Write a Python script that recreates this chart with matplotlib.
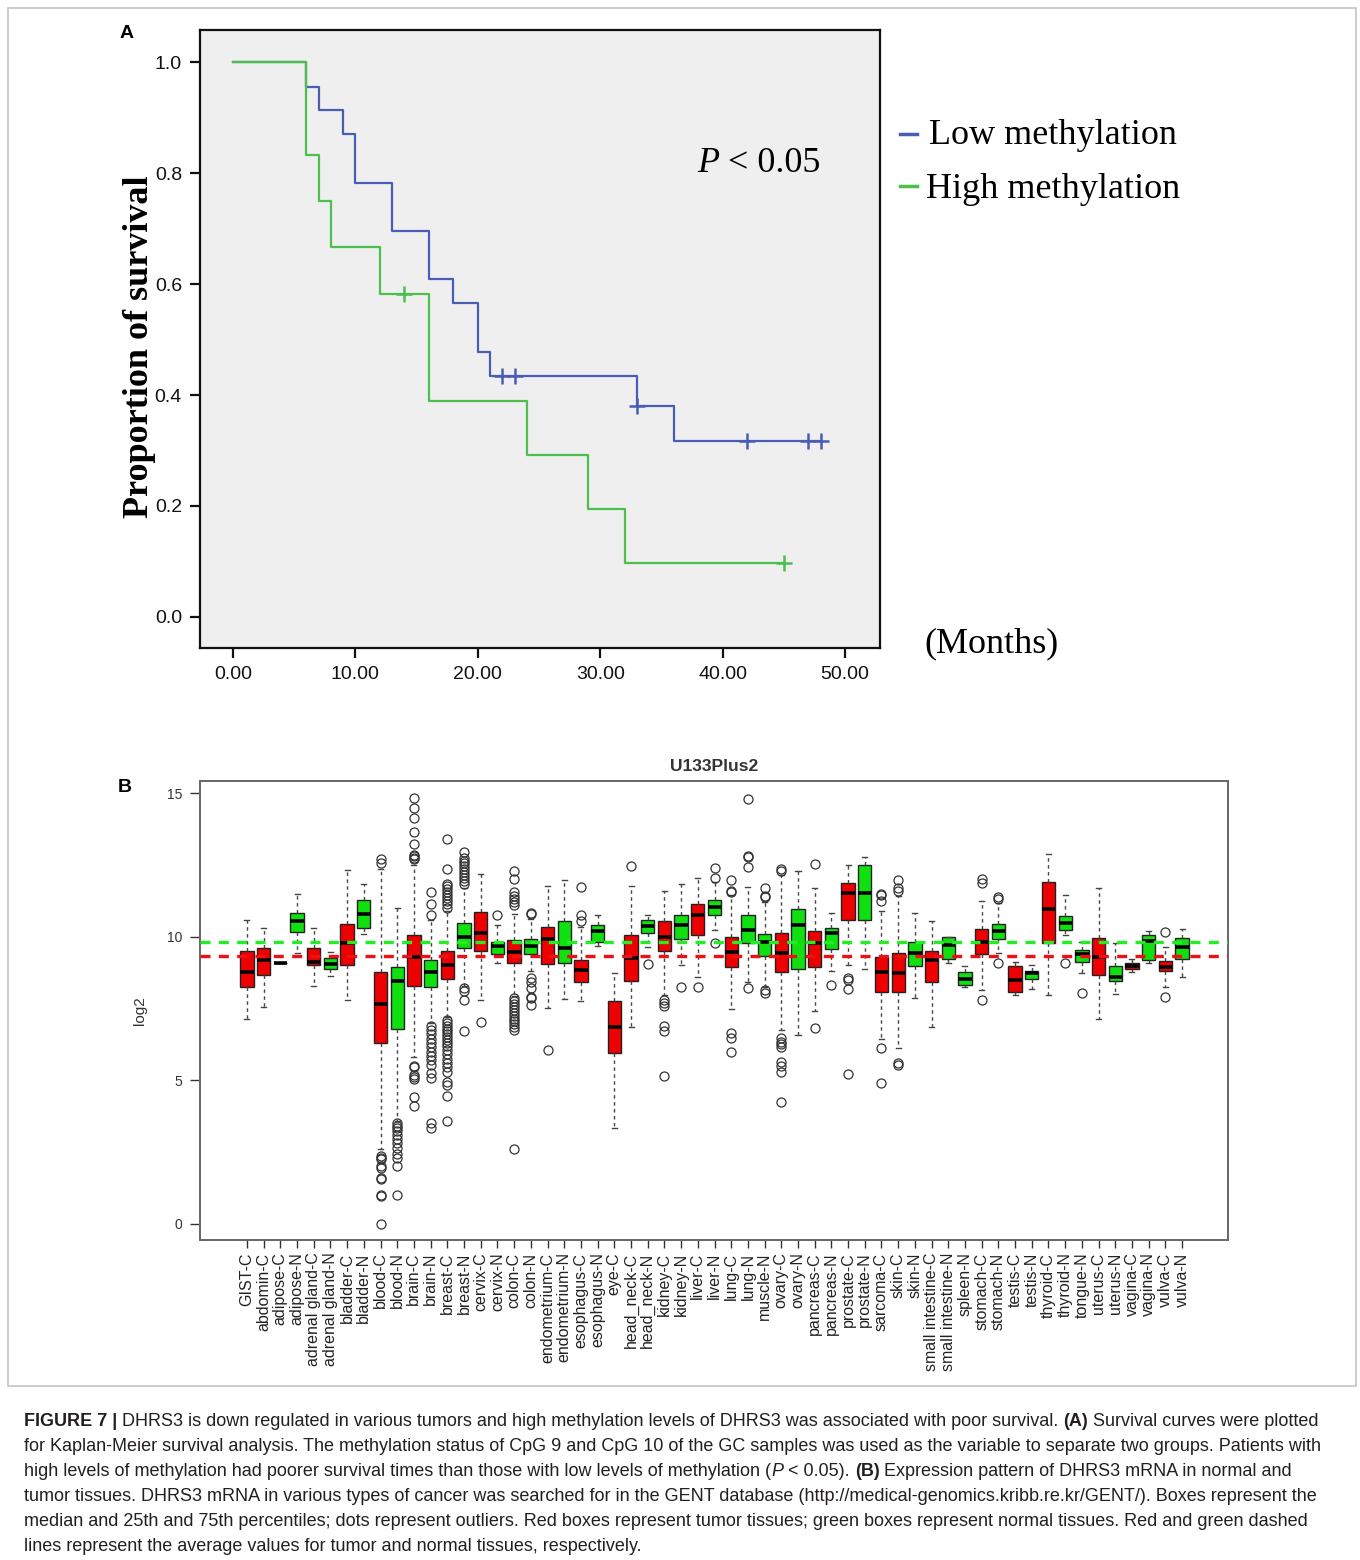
import matplotlib
matplotlib.use('Agg')
import matplotlib.pyplot as plt
from matplotlib.patches import Rectangle
from matplotlib.text import Annotation

plt.rcParams['font.family'] = ['Liberation Sans', 'DejaVu Sans']

W, H = 1360, 1560

# ---- panel A: Kaplan-Meier data ----
low_t = [0, 6, 7, 9, 10, 13, 16, 18, 20, 21, 33, 36, 48]
low_s = [1.0, 0.956, 0.913, 0.870, 0.783, 0.696, 0.609, 0.565, 0.478, 0.435, 0.380, 0.317, 0.317]
low_cens_t = [22, 23, 33, 42, 47, 48]
low_cens_s = [0.435, 0.435, 0.380, 0.317, 0.317, 0.317]

high_t = [0, 6, 7, 8, 12, 16, 24, 29, 32, 45]
high_s = [1.0, 0.833, 0.750, 0.667, 0.583, 0.389, 0.292, 0.194, 0.097, 0.097]
high_cens_t = [14, 45]
high_cens_s = [0.583, 0.097]

# ---- panel B: GENT U133Plus2 boxplot stats ----
tissues = ['GIST-C', 'abdomin-C', 'adipose-C', 'adipose-N', 'adrenal gland-C', 'adrenal gland-N',
           'bladder-C', 'bladder-N', 'blood-C', 'blood-N', 'brain-C', 'brain-N', 'breast-C', 'breast-N',
           'cervix-C', 'cervix-N', 'colon-C', 'colon-N', 'endometrium-C', 'endometrium-N',
           'esophagus-C', 'esophagus-N', 'eye-C', 'head_neck-C', 'head_neck-N', 'kidney-C', 'kidney-N',
           'liver-C', 'liver-N', 'lung-C', 'lung-N', 'muscle-N', 'ovary-C', 'ovary-N', 'pancreas-C',
           'pancreas-N', 'prostate-C', 'prostate-N', 'sarcoma-C', 'skin-C', 'skin-N',
           'small intestine-C', 'small intestine-N', 'spleen-N', 'stomach-C', 'stomach-N', 'testis-C',
           'testis-N', 'thyroid-C', 'thyroid-N', 'tongue-N', 'uterus-C', 'uterus-N', 'vagina-C',
           'vagina-N', 'vulva-C', 'vulva-N']
whislo = [7.14, 7.56, 9.08, 9.42, 8.28, 8.63, 7.80, 10.09, 2.60, 3.60, 5.80, 7.00, 7.20, 8.30,
          7.80, 9.07, 7.95, 8.80, 7.50, 7.83, 7.77, 9.69, 3.33, 6.87, 9.65, 7.97, 9.01,
          8.58, 10.22, 7.47, 8.43, 8.26, 6.75, 6.57, 7.42, 8.82, 9.01, 8.89, 6.44, 6.11, 7.85,
          6.85, 9.07, 8.24, 8.16, 9.42, 7.96, 8.19, 7.97, 10.05, 8.75, 7.14, 8.00, 8.77,
          9.07, 8.24, 8.61]
q1 = [8.24, 8.67, 9.08, 10.17, 9.02, 8.86, 9.01, 10.30, 6.29, 6.80, 8.30, 8.24, 8.53, 9.59,
      9.51, 9.40, 9.08, 9.38, 9.05, 9.09, 8.43, 9.80, 5.94, 8.46, 10.14, 9.49, 9.91,
      10.07, 10.77, 8.96, 9.78, 9.33, 8.76, 8.86, 8.93, 9.56, 10.58, 10.58, 8.07, 8.06, 8.99,
      8.43, 9.21, 8.32, 9.38, 9.93, 8.07, 8.51, 9.79, 10.23, 9.11, 8.67, 8.44, 8.89,
      9.19, 8.81, 9.24]
med = [8.77, 9.19, 9.08, 10.53, 9.11, 9.05, 9.79, 10.78, 7.66, 8.45, 9.31, 8.77, 9.02, 10.00,
       10.14, 9.66, 9.48, 9.66, 9.91, 9.59, 8.84, 10.20, 6.85, 9.27, 10.37, 9.98, 10.42,
       10.75, 11.03, 9.48, 10.25, 9.81, 9.42, 10.41, 9.77, 10.12, 11.51, 11.53, 8.76, 8.75, 9.42,
       9.19, 9.71, 8.53, 9.81, 10.21, 8.49, 8.74, 10.97, 10.49, 9.38, 9.30, 8.61, 8.98,
       9.85, 8.96, 9.63]
q3 = [9.50, 9.62, 9.08, 10.84, 9.59, 9.25, 10.44, 11.28, 8.76, 8.93, 10.06, 9.19, 9.50, 10.49,
      10.85, 9.83, 9.88, 9.93, 10.33, 10.54, 9.19, 10.42, 7.75, 10.06, 10.57, 10.53, 10.75,
      11.14, 11.28, 9.98, 10.75, 10.10, 10.12, 10.95, 10.21, 10.30, 11.86, 12.48, 9.30, 9.42, 9.80,
      9.50, 10.00, 8.76, 10.27, 10.45, 8.98, 8.79, 11.91, 10.73, 9.52, 9.97, 8.99, 9.07,
      10.06, 9.16, 9.97]
whishi = [10.59, 10.31, 9.08, 11.47, 10.29, 9.47, 12.32, 11.83, 12.35, 10.99, 12.50, 10.59, 10.90, 11.70,
          12.18, 10.39, 10.80, 10.60, 11.76, 11.97, 10.35, 10.74, 8.72, 11.76, 10.75, 11.59, 11.82,
          12.03, 11.90, 11.45, 11.74, 11.22, 12.15, 12.30, 11.70, 10.84, 12.49, 12.76, 10.89, 11.41, 10.81,
          10.54, 10.00, 8.98, 11.25, 11.16, 9.13, 9.00, 12.88, 11.45, 9.80, 11.68, 9.77, 9.21,
          10.21, 9.65, 10.28]
outliers = [
    [], [], [], [], [], [], [], [],
    [12.69, 12.55, 2.35, 2.3, 2.25, 2.0, 1.95, 1.6, 1.55, 1.0, 0.97, 0.0],
    [3.5, 3.42, 3.35, 3.25, 3.1, 2.95, 2.8, 2.65, 2.45, 2.3, 2.0, 1.0],
    [14.84, 14.47, 14.12, 13.65, 13.22, 12.85, 12.8, 12.75, 12.7, 5.5, 5.45, 5.2, 5.1, 5.05, 4.43, 4.11],
    [11.57, 11.13, 10.76, 6.9, 6.75, 6.6, 6.45, 6.3, 6.15, 6.0, 5.85, 5.7, 5.55, 5.27, 5.07, 3.5, 3.33],
    [13.41, 12.37, 11.85, 11.75, 11.65, 11.55, 11.45, 11.35, 11.25, 11.15, 11.0,
     7.1, 7.0, 6.9, 6.8, 6.7, 6.6, 6.5, 6.4, 6.3, 6.2, 6.05, 5.9, 5.75, 5.6, 5.45, 5.3, 4.95, 4.84, 4.47, 3.6],
    [12.96, 12.75, 12.65, 12.55, 12.45, 12.35, 12.25, 12.15, 12.05, 11.95, 11.85, 8.2, 8.1, 7.8, 6.71],
    [7.04], [10.74],
    [12.30, 12.0, 11.57, 11.4, 11.3, 11.2, 11.1,
     7.85, 7.75, 7.65, 7.55, 7.45, 7.35, 7.25, 7.15, 7.05, 6.95, 6.85, 6.75, 2.6],
    [10.83, 10.78, 8.55, 8.43, 8.2, 7.91, 7.85, 7.62],
    [6.06], [], [11.74, 10.75, 10.56], [], [], [12.47], [9.05],
    [7.8, 7.7, 7.6, 6.9, 6.7, 5.15], [8.24], [8.26], [12.38, 12.05, 9.78],
    [11.97, 11.6, 11.55, 6.66, 6.46, 6.0], [14.79, 12.82, 12.76, 12.44, 8.22],
    [11.70, 11.42, 11.38, 8.14, 8.03],
    [12.34, 12.30, 6.46, 6.35, 6.25, 6.15, 5.65, 5.5, 5.28, 4.26], [],
    [12.53, 6.81], [8.31], [8.55, 8.5, 8.18, 5.23], [],
    [11.5, 11.45, 11.24, 6.11, 4.92], [11.99, 11.7, 11.6, 5.59, 5.55], [],
    [], [], [], [12.0, 11.86, 7.80], [11.39, 11.3, 9.10], [], [], [], [9.10], [8.05],
    [], [], [], [], [10.17, 7.91], [],
]
mean_normal = 9.81
mean_tumor = 9.33

caption = [
    [("FIGURE 7 | ", 'bold', 'normal'),
     ("DHRS3 is down regulated in various tumors and high methylation levels of DHRS3 was associated with poor survival. ", 'normal', 'normal'),
     ("(A)", 'bold', 'normal'), (" Survival curves were plotted", 'normal', 'normal')],
    [("for Kaplan-Meier survival analysis. The methylation status of CpG 9 and CpG 10 of the GC samples was used as the variable to separate two groups. Patients with", 'normal', 'normal')],
    [("high levels of methylation had poorer survival times than those with low levels of methylation (", 'normal', 'normal'),
     ("P", 'normal', 'italic'), (" < 0.05). ", 'normal', 'normal'), ("(B)", 'bold', 'normal'),
     (" Expression pattern of DHRS3 mRNA in normal and", 'normal', 'normal')],
    [("tumor tissues. DHRS3 mRNA in various types of cancer was searched for in the GENT database (http://medical-genomics.kribb.re.kr/GENT/). Boxes represent the", 'normal', 'normal')],
    [("median and 25th and 75th percentiles; dots represent outliers. Red boxes represent tumor tissues; green boxes represent normal tissues. Red and green dashed", 'normal', 'normal')],
    [("lines represent the average values for tumor and normal tissues, respectively.", 'normal', 'normal')],
]


def fx(px):
    return px / W


def fy(py):
    return 1 - py / H


fig = plt.figure(figsize=(W / 100, H / 100), dpi=100)

# outer frame around the two panels
fig.add_artist(Rectangle((fx(8), fy(1386)), fx(1348), (1378) / H, transform=fig.transFigure,
                         fill=False, edgecolor='#c4c4c4', linewidth=1.2))

serif = ['Liberation Serif', 'DejaVu Serif']
blue = '#4a5db5'
green = '#4cbf4c'

# ================= panel A =================
axA = fig.add_axes([fx(200), fy(648), fx(680), (648 - 30) / H])
axA.set_facecolor('#efefef')
axA.step(low_t, low_s, where='post', color=blue, lw=1.6)
axA.plot(low_cens_t, low_cens_s, ls='none', marker='+', ms=11, mew=1.8, color=blue)
axA.step(high_t, high_s, where='post', color=green, lw=1.6)
axA.plot(high_cens_t, high_cens_s, ls='none', marker='+', ms=11, mew=1.8, color=green)
axA.set_xlim(-2.7, 52.86)
axA.set_ylim(-0.056, 1.058)
axA.set_xticks([0, 10, 20, 30, 40, 50])
axA.set_xticklabels(['%.2f' % v for v in [0, 10, 20, 30, 40, 50]])
axA.set_yticks([0, 0.2, 0.4, 0.6, 0.8, 1.0])
axA.set_yticklabels(['%.1f' % v for v in [0, 0.2, 0.4, 0.6, 0.8, 1.0]])
axA.tick_params(direction='out', length=7, width=1.6, labelsize=14, pad=6, colors='#111111')
for s in axA.spines.values():
    s.set_linewidth(1.6)
    s.set_color('#111111')

fig.text(fx(140), fy(347), 'Proportion of survival', rotation=90, ha='center', va='center',
         fontsize=26, fontweight='bold', family=serif)
pt = fig.text(fx(697), fy(163), 'P', ha='left', va='center', fontsize=26, style='italic', family=serif)
fig.add_artist(Annotation(' < 0.05', xy=(1, 0), xycoords=pt, va='bottom', ha='left',
                          fontsize=26, family=serif))
fig.text(fx(929), fy(136), 'Low methylation', ha='left', va='center', fontsize=26, family=serif)
fig.text(fx(926), fy(189), 'High methylation', ha='left', va='center', fontsize=26, family=serif)
fig.add_artist(plt.Line2D([fx(900), fx(917)], [fy(134), fy(134)], color=blue, lw=2.5))
fig.add_artist(plt.Line2D([fx(900), fx(917)], [fy(186), fy(186)], color=green, lw=2.5))
fig.text(fx(924), fy(644), '(Months)', ha='left', va='center', fontsize=26, family=serif)
fig.text(fx(120), fy(33), 'A', ha='left', va='center', fontsize=14, fontweight='bold')

# ================= panel B =================
axB = fig.add_axes([fx(200), fy(1240), fx(1028), (1240 - 781) / H])
stats = []
for i, name in enumerate(tissues):
    stats.append(dict(label=name, whislo=whislo[i], q1=q1[i], med=med[i], q3=q3[i],
                      whishi=whishi[i], fliers=outliers[i]))
positions = list(range(1, len(tissues) + 1))
bp = axB.bxp(stats, positions=positions, widths=0.8, patch_artist=True, capwidths=0.3,
             boxprops=dict(edgecolor='#222222', linewidth=1.0),
             whiskerprops=dict(color='#444444', linestyle=(0, (2.5, 2.5)), linewidth=1.0),
             capprops=dict(color='#444444', linewidth=1.0),
             medianprops=dict(color='black', linewidth=2.6),
             flierprops=dict(marker='o', markersize=6.5, markerfacecolor='none',
                             markeredgecolor='#333333', markeredgewidth=0.9))
for patch, name in zip(bp['boxes'], tissues):
    patch.set_facecolor('#ee0000' if name.endswith('-C') else '#10e010')

axB.axhline(mean_normal, color='#22ee22', lw=2.4, ls=(0, (3, 2.5)), zorder=5)
axB.axhline(mean_tumor, color='#ee1111', lw=2.4, ls=(0, (3, 2.5)), zorder=5)

axB.set_xlim(-1.81, 59.75)
axB.set_ylim(-0.56, 15.42)
axB.set_yticks([0, 5, 10, 15])
axB.set_xticks(positions)
axB.set_xticklabels(tissues, rotation=90, fontsize=11.5, color='#222222')
axB.tick_params(axis='y', labelsize=10, length=7, width=1, colors='#333333', pad=6)
axB.tick_params(axis='x', length=6, width=1, colors='#333333', pad=3)
for lab in axB.get_xticklabels():
    lab.set_color('#222222')
for s in axB.spines.values():
    s.set_linewidth(1.4)
    s.set_color('#666666')
axB.set_ylabel('log2', fontsize=11, color='#333333', labelpad=14)
axB.set_title('U133Plus2', fontsize=12.5, fontweight='bold', color='#333333', pad=7)
fig.text(fx(118), fy(787), 'B', ha='left', va='center', fontsize=14, fontweight='bold')

# ================= caption =================
cap_family = ['Liberation Sans Narrow', 'Liberation Sans']
for li, segs in enumerate(caption):
    y = fy(1426 + 25 * li)
    prev = None
    for txt, wt, st in segs:
        if prev is None:
            prev = fig.text(fx(24), y, txt, ha='left', va='baseline', fontsize=13,
                            fontweight=wt, style=st, color='#231f20', family=cap_family)
        else:
            prev = Annotation(txt, xy=(1, 0), xycoords=prev, ha='left', va='bottom',
                              fontsize=13, fontweight=wt, style=st, color='#231f20',
                              family=cap_family)
            fig.add_artist(prev)

fig.savefig('out.png', dpi=100)
